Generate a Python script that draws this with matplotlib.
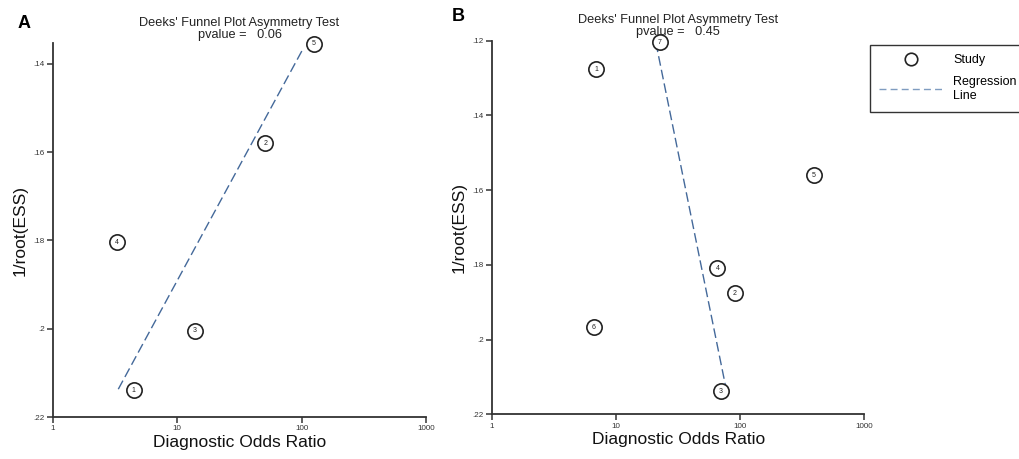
import matplotlib
matplotlib.use("Agg")
import matplotlib.pyplot as plt
from matplotlib.lines import Line2D

plt.rcParams['font.family'] = ['Liberation Sans', 'DejaVu Sans']

# panel A data
a_study = [1, 2, 3, 4, 5]
a_dor = [4.45, 51.1, 13.8, 3.25, 125.6]
a_inv_ess = [0.2139, 0.158, 0.2005, 0.1804, 0.1355]
a_line_dor = [3.35, 104]
a_line_y = [0.2137, 0.1363]
a_pvalue = "0.06"

# panel B data
b_study = [1, 2, 3, 4, 5, 6, 7]
b_dor = [6.92, 90.5, 69.4, 65.6, 393, 6.63, 22.4]
b_inv_ess = [0.1277, 0.1876, 0.2138, 0.1809, 0.156, 0.1967, 0.1204]
b_line_dor = [20.9, 76.6]
b_line_y = [0.1205, 0.2128]
b_pvalue = "0.45"

x_ticks = [1, 10, 100, 1000]
x_ticklabels = ["1", "10", "100", "1000"]
y_ticks = [0.14, 0.16, 0.18, 0.2, 0.22]
y_ticks_b = [0.12, 0.14, 0.16, 0.18, 0.2, 0.22]

line_col = '#44699a'
axis_col = '#333333'

W, H = 1020, 459
fig = plt.figure(figsize=(W / 100, H / 100), dpi=100)


def fx(px):
    return px / W


def fy(py):
    return 1 - py / H


def draw_panel(ax, study, dor, inv, ldor, ly, yt, ylim, pval, title_y):
    ax.plot(ldor, ly, color=line_col, lw=1.0, dashes=(7, 3))
    ax.plot(dor, inv, 'o', ms=11, mfc='white', mec='#222222', mew=1.2, ls='none',
            clip_on=False, zorder=3)
    for s, xv, yv in zip(study, dor, inv):
        ax.text(xv, yv, str(s), fontsize=5, ha='center', va='center', color='#222222',
                zorder=4)
    ax.set_xscale('log')
    ax.set_xlim(1, 1000)
    ax.set_ylim(*ylim)
    ax.set_xticks(x_ticks)
    ax.set_xticklabels(x_ticklabels)
    ax.minorticks_off()
    ax.set_yticks(yt)
    ax.set_yticklabels([('%g' % v).lstrip('0') for v in yt])
    ax.tick_params(axis='both', labelsize=5.8, length=4, width=1.1, color=axis_col,
                   labelcolor='#333333', pad=2)
    for side in ['top', 'right']:
        ax.spines[side].set_visible(False)
    for side in ['left', 'bottom']:
        ax.spines[side].set_color(axis_col)
        ax.spines[side].set_linewidth(1.3)
    ax.set_xlabel('Diagnostic Odds Ratio', fontsize=12.5, color='#111111', labelpad=2)
    ax.set_ylabel('1/root(ESS)', fontsize=12.5, color='#111111', labelpad=4)
    pos = ax.get_position()
    cx = (pos.x0 + pos.x1) / 2
    fig.text(cx, fy(title_y), "Deeks' Funnel Plot Asymmetry Test\npvalue =   " + pval,
             ha='center', va='top', fontsize=9.2, color='#222222', linespacing=1.0)


axA = fig.add_axes([fx(53), fy(417), fx(426 - 53), (417 - 43) / H])
draw_panel(axA, a_study, a_dor, a_inv_ess, a_line_dor, a_line_y, y_ticks,
           (0.22, 0.1353), a_pvalue, 17)

axB = fig.add_axes([fx(492), fy(414.3), fx(864.3 - 492), (414.3 - 40.7) / H])
draw_panel(axB, b_study, b_dor, b_inv_ess, b_line_dor, b_line_y, y_ticks_b,
           (0.22, 0.12), b_pvalue, 13.5)

fig.text(fx(18), fy(15), 'A', fontsize=13, fontweight='bold', va='top')
fig.text(fx(452), fy(8), 'B', fontsize=13, fontweight='bold', va='top')

handles = [
    Line2D([], [], marker='o', ls='none', ms=9, mfc='white', mec='#222222', mew=1.2),
    Line2D([], [], color='#7f9cc0', lw=1.0, dashes=(5, 3)),
]
fig.legend(handles, ['Study', 'Regression\nLine'], loc='upper left',
           bbox_to_anchor=(fx(870), fy(45)), bbox_transform=fig.transFigure,
           fancybox=False, edgecolor='#333333', framealpha=1, fontsize=9,
           handlelength=5.0, handletextpad=0.9, borderpad=0.75, labelspacing=0.8,
           borderaxespad=0)

fig.savefig('out.png', dpi=100)
